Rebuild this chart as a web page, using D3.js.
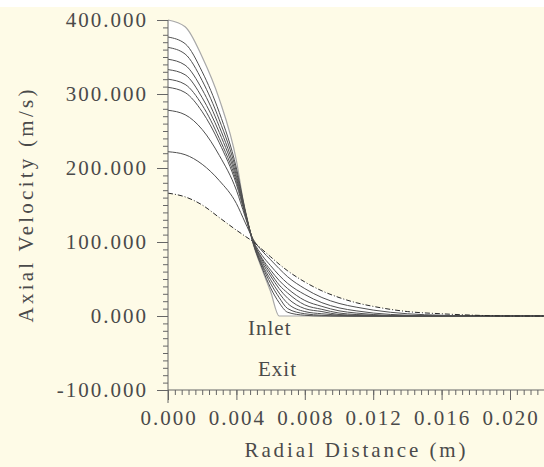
<!DOCTYPE html>
<html>
<head>
<meta charset="utf-8">
<script src="https://cdn.jsdelivr.net/npm/d3@7/dist/d3.min.js"></script>
<style>
  html, body { margin: 0; padding: 0; background: #fff; }
  svg { display: block; }
  text { font-family: "Liberation Serif", "Times New Roman", serif; fill: #4a4a4a; }
</style>
</head>
<body>
<div id="chart"></div>
<script>
"use strict";

// radial positions (m) shared by all profiles
const radius = [0, 0.001, 0.002, 0.003, 0.004, 0.0045, 0.005, 0.0055, 0.006, 0.0065, 0.007,
  0.008, 0.009, 0.010, 0.011, 0.012, 0.014, 0.016, 0.018, 0.020, 0.022];

// axial velocity (m/s), inlet first, exit last
const inlet = [400, 391, 350, 293, 210, 142, 96, 63, 33, 0, 0, 0, 0, 0, 0, 0, 0, 0, 0, 0, 0];
const v377 = [377, 368, 330, 275, 200, 145, 97, 65, 38, 18, 5, 1, 0, 0, 0, 0, 0, 0, 0, 0, 0];
const v363 = [363, 354, 318, 265, 195, 143, 97, 68, 44, 25, 10, 3, 1, 0, 0, 0, 0, 0, 0, 0, 0];
const v347 = [347, 339, 306, 256, 190, 142, 98, 70, 49, 31, 17, 6, 3, 1, 0, 0, 0, 0, 0, 0, 0];
const v333 = [333, 326, 295, 248, 186, 141, 99, 73, 54, 37, 24, 10, 6, 2, 1, 0, 0, 0, 0, 0, 0];
const v320 = [320, 313, 285, 240, 182, 140, 100, 76, 58, 42, 31, 15, 9, 4, 2, 1, 0, 0, 0, 0, 0];
const v309 = [309, 302, 276, 234, 178, 138, 100, 78, 62, 48, 37, 21, 13, 7, 4, 2, 0, 0, 0, 0, 0];
const v278 = [278, 272, 252, 217, 170, 135, 101, 82, 68, 55, 44, 29, 18, 11, 7, 4, 1, 0, 0, 0, 0];
const v222 = [222, 218, 205, 183, 152, 127, 103, 88, 76, 64, 53, 37, 25, 17, 12, 8, 3, 1, 0, 0, 0];
const exit = [166, 161, 150, 133, 116, 108, 100, 90, 80, 70, 61, 46, 34, 25, 18, 13, 6, 3, 1, 0, 0];

const profiles = [inlet, v377, v363, v347, v333, v320, v309, v278, v222, exit];

const yTicks = [-100, 0, 100, 200, 300, 400];
const xTicks = [0, 0.004, 0.008, 0.012, 0.016, 0.020];
const labels = ["Inlet", "Exit"];

const W = 544, H = 467;

const svg = d3.select("#chart").append("svg")
  .attr("width", W).attr("height", H);

svg.append("rect").attr("x", 0).attr("y", 7).attr("width", W).attr("height", H - 7)
  .attr("fill", "#fefbe7");

const x = d3.scaleLinear().domain([0, 0.020]).range([168, 510]);
const y = d3.scaleLinear().domain([-100, 400]).range([390, 20]);

// plain hyphen for negatives, like the original
const fmt = d => d3.format(".3f")(d).replace("\u2212", "-");

// white band between the lowest and highest profile
const band = d3.area()
  .x((d, i) => x(radius[i]))
  .y0(d => y(d[0]))
  .y1(d => y(d[1]))
  .curve(d3.curveMonotoneX);

const env = radius.map((r, i) => [d3.min(profiles, p => p[i]), d3.max(profiles, p => p[i])]);
svg.append("path").datum(env).attr("d", band).attr("fill", "#ffffff");

const line = d3.line()
  .x((d, i) => x(radius[i]))
  .y(d => y(d))
  .curve(d3.curveMonotoneX);

profiles.forEach((p, k) => {
  let path = svg.append("path").datum(p).attr("d", line).attr("fill", "none");
  if (k == 0) {
    path.attr("stroke", "#a8a8a8").attr("stroke-width", 1.2);
  } else if (k == profiles.length - 1) {
    path.attr("stroke", "#2a2a2a").attr("stroke-width", 1).attr("stroke-dasharray", "5,2,1,2");
  } else {
    path.attr("stroke", "#505050").attr("stroke-width", 1);
  }
});

// y axis: majors every 100, minors every 10
const yAxis = svg.append("g").attr("transform", `translate(${x(0)},0)`);
yAxis.call(d3.axisLeft(y).tickValues(d3.range(-100, 401, 10)).tickSize(5).tickFormat(""));
yAxis.append("g").call(d3.axisLeft(y).tickValues(yTicks).tickSize(11).tickFormat(""));
yAxis.selectAll(".domain").remove();
yAxis.selectAll("line").attr("stroke", "#666");
yAxis.append("line").attr("x1", 0).attr("x2", 0).attr("y1", y(400)).attr("y2", 403)
  .attr("stroke", "#666");

svg.append("g").selectAll("text").data(yTicks).join("text")
  .attr("x", 148).attr("y", d => y(d) + 7)
  .attr("text-anchor", "end")
  .attr("font-size", 21).attr("letter-spacing", 2)
  .text(fmt);

// x axis: majors every 0.004, minors every 0.0004
const xAxis = svg.append("g").attr("transform", `translate(0,${y(-100)})`);
xAxis.call(d3.axisBottom(x).tickValues(d3.range(0, 0.0221, 0.0004)).tickSize(5).tickFormat(""));
xAxis.append("g").call(d3.axisBottom(x).tickValues(xTicks).tickSize(10).tickFormat(""));
xAxis.selectAll(".domain").remove();
xAxis.selectAll("line").attr("stroke", "#666");
xAxis.append("line").attr("x1", x(0)).attr("x2", W).attr("stroke", "#666");

svg.append("g").selectAll("text").data(xTicks).join("text")
  .attr("x", d => x(d) + 1).attr("y", 425)
  .attr("text-anchor", "middle")
  .attr("font-size", 21).attr("letter-spacing", 2)
  .text(fmt);

svg.append("text").attr("x", 355).attr("y", 457)
  .attr("text-anchor", "middle").attr("font-size", 21)
  .attr("textLength", 221).attr("lengthAdjust", "spacing")
  .text("Radial Distance (m)");

svg.append("text").attr("transform", "translate(33,206) rotate(-90)")
  .attr("text-anchor", "middle").attr("font-size", 21)
  .attr("textLength", 233).attr("lengthAdjust", "spacing")
  .text("Axial Velocity (m/s)");

svg.append("text").attr("x", 248).attr("y", 335).attr("font-size", 21)
  .attr("letter-spacing", 1).text(labels[0]);
svg.append("text").attr("x", 258).attr("y", 376).attr("font-size", 21)
  .attr("letter-spacing", 1).text(labels[1]);
</script>
</body>
</html>
